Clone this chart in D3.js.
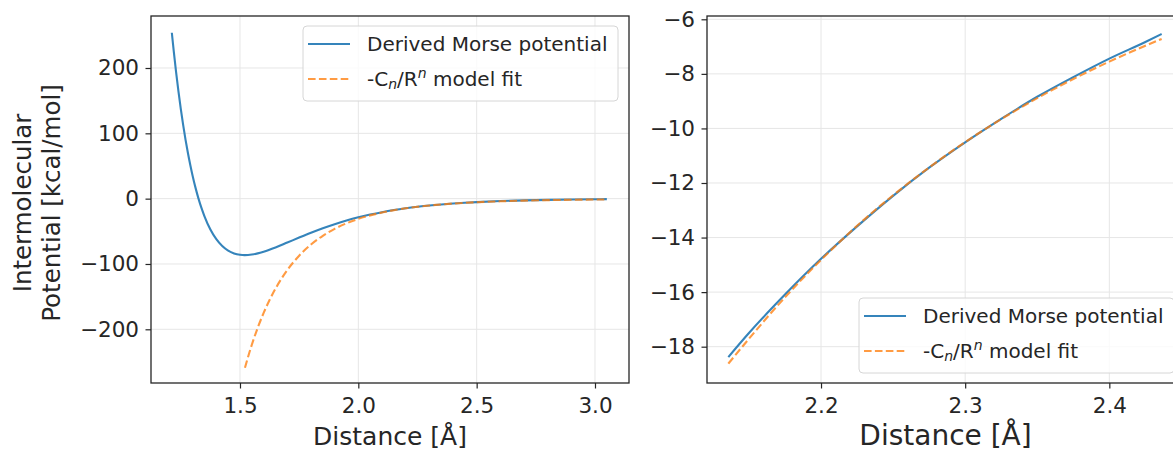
<!DOCTYPE html>
<html>
<head>
<meta charset="utf-8">
<script src="https://cdn.jsdelivr.net/npm/d3@7"></script>
<style>
  html, body { margin: 0; padding: 0; background: #ffffff; }
  svg { display: block; overflow: hidden; }
  text { font-family: "DejaVu Sans", sans-serif; fill: #262626; }
</style>
</head>
<body>
<svg id="chart" width="1173" height="452"></svg>
<script>
// ---------------- data ----------------
// Left panel: full curves
const morseR = [1.212, 1.22, 1.23, 1.24, 1.25, 1.26, 1.27, 1.28, 1.29, 1.30, 1.3125, 1.325, 1.3375, 1.35, 1.375, 1.40, 1.425, 1.45, 1.475, 1.50, 1.52, 1.55, 1.575, 1.60, 1.65, 1.70, 1.75, 1.80, 1.85, 1.90, 1.95, 2.00, 2.05, 2.10, 2.15, 2.20, 2.25, 2.30, 2.35, 2.40, 2.45, 2.50, 2.60, 2.70, 2.80, 2.90, 3.00, 3.05];
const morseV = [254.0, 226.1, 193.8, 164.1, 137.2, 112.6, 90.1, 69.8, 51.5, 34.7, 16.1, -0.3, -14.6, -27.1, -47.3, -62.1, -72.6, -79.6, -83.9, -86.0, -86.5, -85.6, -83.8, -81.2, -74.7, -67.2, -59.6, -52.2, -45.3, -39.1, -33.5, -28.6, -24.4, -20.7, -17.5, -14.8, -12.5, -10.5, -8.85, -7.44, -6.25, -5.25, -3.70, -2.60, -1.83, -1.28, -0.90, -0.75];

const fitR = [1.521, 1.53, 1.54, 1.55, 1.575, 1.60, 1.625, 1.65, 1.675, 1.70, 1.75, 1.80, 1.85, 1.90, 1.95, 2.00, 2.05, 2.10, 2.15, 2.20, 2.25, 2.30, 2.35, 2.40, 2.45, 2.50, 2.60, 2.70, 2.80, 2.90, 3.00, 3.05];
const fitV = [-258.9, -247.4, -235.2, -223.7, -197.6, -174.9, -155.1, -137.8, -122.6, -109.3, -87.3, -70.2, -56.8, -46.2, -37.8, -31.0, -25.6, -21.3, -17.7, -14.8, -12.45, -10.5, -8.89, -7.55, -6.44, -5.50, -4.06, -3.03, -2.29, -1.74, -1.34, -1.18];

// Right panel: zoomed region
const zoomR = [2.1357, 2.15, 2.175, 2.20, 2.225, 2.25, 2.275, 2.30, 2.325, 2.35, 2.375, 2.40, 2.425, 2.4363];
const zoomMorseV = [-18.38, -17.50, -16.09, -14.78, -13.59, -12.47, -11.44, -10.51, -9.65, -8.84, -8.12, -7.44, -6.83, -6.54];
const zoomFitV = [-18.62, -17.71, -16.19, -14.82, -13.57, -12.45, -11.43, -10.50, -9.66, -8.89, -8.19, -7.55, -6.97, -6.72];

// tick labels
const leftXTicks = [1.5, 2.0, 2.5, 3.0];
const leftYTicks = [-200, -100, 0, 100, 200];
const rightXTicks = [2.2, 2.3, 2.4];
const rightYTicks = [-18, -16, -14, -12, -10, -8, -6];

const seriesNames = ["Derived Morse potential", "model fit"];
const colors = ["#1f77b4", "#ff7f0e"];

// ---------------- drawing ----------------
const svg = d3.select("#chart");
const minus = s => String(s).replace("-", "\u2212");

function panel(opts) {
  const { x0, x1, y0, y1, xDomain, yDomain, xTicks, yTicks, xFmt, yFmt, xLabel, xLabelSize, xLabelY } = opts;
  const x = d3.scaleLinear().domain(xDomain).range([x0, x1]);
  const y = d3.scaleLinear().domain(yDomain).range([y1, y0]);
  const g = svg.append("g");

  // grid
  g.append("g").selectAll("line.gx").data(xTicks).join("line")
    .attr("x1", d => x(d)).attr("x2", d => x(d)).attr("y1", y0).attr("y2", y1)
    .attr("stroke", "#e6e6e6").attr("stroke-width", 1);
  g.append("g").selectAll("line.gy").data(yTicks).join("line")
    .attr("x1", x0).attr("x2", x1).attr("y1", d => y(d)).attr("y2", d => y(d))
    .attr("stroke", "#e6e6e6").attr("stroke-width", 1);

  // axes
  const ax = g.append("g").attr("transform", `translate(0,${y1})`)
    .call(d3.axisBottom(x).tickValues(xTicks).tickFormat(d => minus(xFmt(d))).tickSize(5.5).tickSizeOuter(0).tickPadding(9));
  const ay = g.append("g").attr("transform", `translate(${x0},0)`)
    .call(d3.axisLeft(y).tickValues(yTicks).tickFormat(d => minus(yFmt(d))).tickSize(5.5).tickSizeOuter(0).tickPadding(6.5));
  [ax, ay].forEach(a => {
    a.select(".domain").remove();
    a.selectAll(".tick line").attr("stroke", "#262626").attr("stroke-width", 1.2);
    a.selectAll(".tick text").attr("font-size", "21.5px").attr("font-family", "DejaVu Sans").attr("fill", "#262626");
  });

  // frame
  g.append("rect").attr("x", x0).attr("y", y0).attr("width", x1 - x0).attr("height", y1 - y0)
    .attr("fill", "none").attr("stroke", "#262626").attr("stroke-width", 1.3);

  // x label
  g.append("text").attr("x", (x0 + x1) / 2).attr("y", xLabelY).attr("text-anchor", "middle")
    .attr("font-size", xLabelSize + "px").text(xLabel);

  return { g, x, y };
}

function drawLines(p, rs, vm, vf) {
  const lineM = d3.line().x((d, i) => p.x(rs.m[i])).y(d => p.y(d)).curve(d3.curveMonotoneX);
  const lineF = d3.line().x((d, i) => p.x(rs.f[i])).y(d => p.y(d)).curve(d3.curveMonotoneX);
  p.g.append("path").datum(vm).attr("d", lineM).attr("fill", "none")
    .attr("stroke", colors[0]).attr("stroke-opacity", 0.9).attr("stroke-width", 2.1);
  p.g.append("path").datum(vf).attr("d", lineF).attr("fill", "none")
    .attr("stroke", colors[1]).attr("stroke-opacity", 0.78).attr("stroke-width", 2.1)
    .attr("stroke-dasharray", "7.6,3.3");
}

function legend(p, lx, ly) {
  const w = 315, h = 75;
  const lg = p.g.append("g").attr("transform", `translate(${lx},${ly})`);
  lg.append("rect").attr("x", 0).attr("y", 0).attr("width", w).attr("height", h).attr("rx", 4)
    .attr("fill", "#ffffff").attr("fill-opacity", 0.8).attr("stroke", "#d6d6d6").attr("stroke-width", 1);
  const rows = [0, 1];
  rows.forEach(i => {
    const cy = 18 + i * 35;
    lg.append("line").attr("x1", 5).attr("x2", 47).attr("y1", cy).attr("y2", cy)
      .attr("stroke", colors[i]).attr("stroke-opacity", i ? 0.78 : 0.9).attr("stroke-width", 2.1)
      .attr("stroke-dasharray", i ? "7.6,3.3" : null);
    const t = lg.append("text").attr("x", 64).attr("y", cy).attr("dy", "0.35em").attr("font-size", "20px");
    if (i === 0) {
      t.text(seriesNames[0]);
    } else {
      t.append("tspan").text("-C");
      t.append("tspan").attr("font-size", "14px").attr("font-style", "italic").attr("dy", "3").text("n");
      t.append("tspan").attr("dy", "-3").text("/R");
      t.append("tspan").attr("font-size", "14px").attr("font-style", "italic").attr("dy", "-8").text("n");
      t.append("tspan").attr("dy", "8").text(" " + seriesNames[1]);
    }
  });
}

// Left panel
const L = panel({
  x0: 151, x1: 629, y0: 16, y1: 383,
  xDomain: [1.124, 3.1437], yDomain: [-282.2, 279.6],
  xTicks: leftXTicks, yTicks: leftYTicks,
  xFmt: d3.format(".1f"), yFmt: d3.format("d"),
  xLabel: "Distance [\u00C5]", xLabelSize: 25, xLabelY: 445
});
drawLines(L, { m: morseR, f: fitR }, morseV, fitV);
legend(L, 303, 26);

// y label (two lines)
const yl = svg.append("text").attr("transform", "translate(0,203) rotate(-90)")
  .attr("text-anchor", "middle").attr("font-size", "24.5px");
yl.append("tspan").attr("x", 0).attr("y", 30.5).text("Intermolecular");
yl.append("tspan").attr("x", 0).attr("y", 60).text("Potential [kcal/mol]");

// Right panel
const R = panel({
  x0: 707, x1: 1184, y0: 16, y1: 383,
  xDomain: [2.1209, 2.4518], yDomain: [-19.331, -5.879],
  xTicks: rightXTicks, yTicks: rightYTicks,
  xFmt: d3.format(".1f"), yFmt: d3.format("d"),
  xLabel: "Distance [\u00C5]", xLabelSize: 28, xLabelY: 445
});
drawLines(R, { m: zoomR, f: zoomR }, zoomMorseV, zoomFitV);
legend(R, 859, 298);
</script>
</body>
</html>
